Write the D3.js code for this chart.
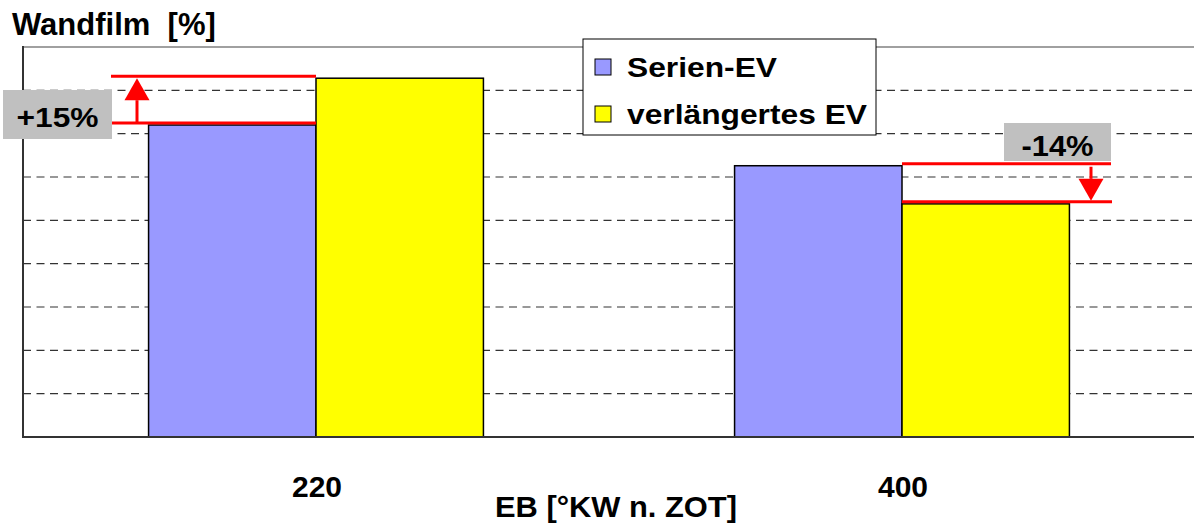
<!DOCTYPE html>
<html>
<head>
<meta charset="utf-8">
<script src="https://cdn.jsdelivr.net/npm/d3@7/dist/d3.min.js"></script>
<style>
  html, body { margin: 0; padding: 0; background: #fff; }
  svg { display: block; }
  text { font-family: "Liberation Sans", Arial, sans-serif; font-weight: bold; fill: #000; }
</style>
</head>
<body>
<svg id="chart" width="1194" height="525"></svg>
<script>
// Injection end (EB) in °KW n. ZOT
const categories = ["220", "400"];
const seriesNames = ["Serien-EV", "verlängertes EV"];
const seriesColors = ["#9999ff", "#ffff00"];
// Wall film share [%] per series, one value per category
const serienEV = [36.0, 31.3];
const verlaengertesEV = [41.4, 26.9];
const yTicks = [0, 5, 10, 15, 20, 25, 30, 35, 40, 45];
// Relative change labels per category
const changeLabels = ["+15%", "-14%"];

const seriesValues = [serienEV, verlaengertesEV];

const svg = d3.select("#chart");
const plot = { left: 23, right: 1195, top: 47, bottom: 437 };

const x0 = d3.scaleBand().domain(categories).range([plot.left, plot.right]).paddingInner(0).paddingOuter(0);
const x1 = d3.scaleBand().domain(seriesNames).range([0, x0.bandwidth()]).paddingInner(0).paddingOuter(0.75);
const y = d3.scaleLinear().domain([0, 45]).range([plot.bottom, plot.top]);

// Gridlines
const grid = svg.append("g");
grid.selectAll("line").data(yTicks.slice(1)).join("line")
  .attr("x1", plot.left).attr("x2", plot.right)
  .attr("y1", d => y(d)).attr("y2", d => y(d))
  .attr("stroke", (d, i, a) => i === a.length - 1 ? "#a0a0a0" : "#333")
  .attr("stroke-width", (d, i, a) => i === a.length - 1 ? 2 : 1.2)
  .attr("stroke-dasharray", (d, i, a) => i === a.length - 1 ? null : "8,5.5");

// Bars
const groups = svg.append("g").selectAll("g").data(categories).join("g")
  .attr("transform", c => `translate(${x0(c)},0)`);
groups.selectAll("rect")
  .data((c, ci) => seriesNames.map((s, si) => ({ s, si, v: seriesValues[si][ci] })))
  .join("rect")
  .attr("x", d => x1(d.s))
  .attr("y", d => y(d.v))
  .attr("width", x1.bandwidth())
  .attr("height", d => y(0) - y(d.v))
  .attr("fill", d => seriesColors[d.si])
  .attr("stroke", "#000")
  .attr("stroke-width", 1.5);

// Axes lines
svg.append("line").attr("x1", plot.left).attr("x2", plot.left)
  .attr("y1", plot.top - 1).attr("y2", plot.bottom + 1)
  .attr("stroke", "#333").attr("stroke-width", 2);
svg.append("line").attr("x1", plot.left).attr("x2", plot.right)
  .attr("y1", plot.bottom).attr("y2", plot.bottom)
  .attr("stroke", "#333").attr("stroke-width", 2);

// Category labels
svg.append("g").selectAll("text").data(categories).join("text")
  .attr("x", c => x0(c) + x0.bandwidth() / 2 + 1)
  .attr("y", 497)
  .attr("text-anchor", "middle")
  .attr("font-size", 30)
  .text(c => c);

// Axis titles
svg.append("text").attr("x", 616).attr("y", 517).attr("text-anchor", "middle")
  .attr("font-size", 30).attr("textLength", 242).attr("lengthAdjust", "spacingAndGlyphs")
  .text("EB [°KW n. ZOT]");
svg.append("text").attr("x", 12).attr("y", 35)
  .attr("font-size", 31).attr("xml:space", "preserve").text("Wandfilm  [%]");

// Legend
const legendWidths = [150, 240];
const legend = svg.append("g");
legend.append("rect").attr("x", 583).attr("y", 39).attr("width", 293).attr("height", 96)
  .attr("fill", "#fff").attr("stroke", "#000").attr("stroke-width", 1);
const items = legend.selectAll("g").data(seriesNames).join("g")
  .attr("transform", (d, i) => `translate(595,${59 + i * 47})`);
items.append("rect").attr("width", 16).attr("height", 16)
  .attr("fill", (d, i) => seriesColors[i]).attr("stroke", "#000").attr("stroke-width", 1);
items.append("text").attr("x", 32).attr("y", 18)
  .attr("font-size", 27)
  .attr("textLength", (d, i) => legendWidths[i]).attr("lengthAdjust", "spacingAndGlyphs")
  .text(d => d);

// Change annotations
const red = "#ff0000";
const ann = svg.append("g");
function hline(xa, xb, yy) {
  ann.append("line").attr("x1", xa).attr("x2", xb).attr("y1", yy).attr("y2", yy)
    .attr("stroke", red).attr("stroke-width", 3);
}
function arrow(xx, yFrom, yTip) {
  const dir = Math.sign(yTip - yFrom);
  const headLen = 22, headHalf = 12.5;
  ann.append("line").attr("x1", xx).attr("x2", xx)
    .attr("y1", yFrom).attr("y2", yTip - dir * headLen)
    .attr("stroke", red).attr("stroke-width", 3);
  ann.append("path")
    .attr("d", `M${xx},${yTip}L${xx - headHalf},${yTip - dir * headLen}L${xx + headHalf},${yTip - dir * headLen}Z`)
    .attr("fill", red);
}
function labelBox(bx, by, bw, bh, txt, size, len, base) {
  ann.append("rect").attr("x", bx).attr("y", by).attr("width", bw).attr("height", bh).attr("fill", "#c0c0c0");
  ann.append("text").attr("x", bx + bw / 2).attr("y", base)
    .attr("text-anchor", "middle").attr("font-size", size)
    .attr("textLength", len).attr("lengthAdjust", "spacingAndGlyphs")
    .text(txt);
}

// 220: increase from Serien-EV to verlängertes EV
{
  const c = categories[0];
  const cx = x0(c) + x0.bandwidth() / 2;
  const yLow = y(serienEV[0]) - 2, yHigh = y(verlaengertesEV[0]) - 2;
  hline(111, cx, yHigh);
  hline(111, cx, yLow);
  arrow(137, yLow, yHigh + 2);
  labelBox(3, 90, 109, 49, changeLabels[0], 27, 82, 126.5);
}
// 400: decrease from Serien-EV to verlängertes EV
{
  const c = categories[1];
  const cx = x0(c) + x0.bandwidth() / 2;
  const yHigh = y(serienEV[1]) - 2, yLow = y(verlaengertesEV[1]) - 2;
  labelBox(1004, 123, 107, 38, changeLabels[1], 30, 72, 156);
  hline(cx, 1111, yHigh);
  hline(cx, 1112, yLow);
  arrow(1091, yHigh + 3, yLow - 1);
}
</script>
</body>
</html>
